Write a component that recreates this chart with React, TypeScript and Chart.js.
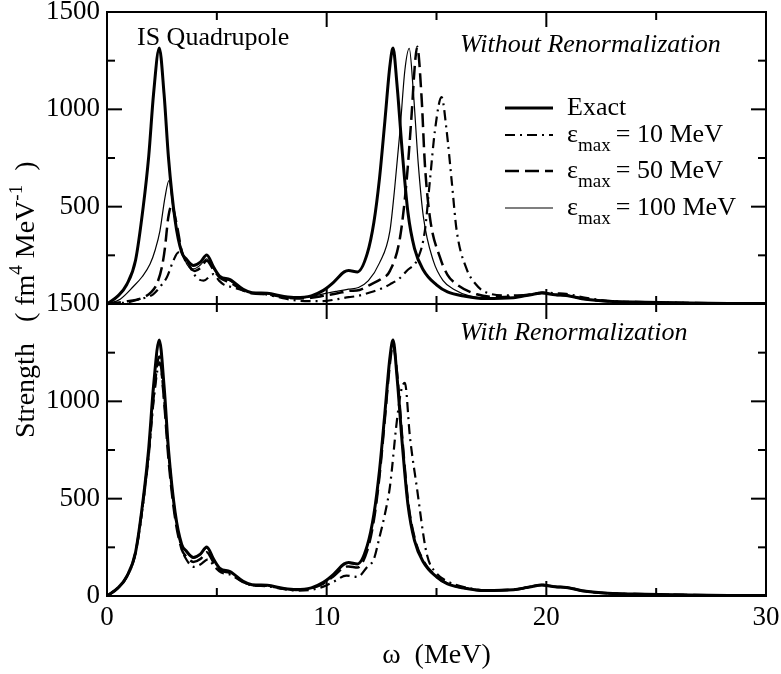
import { useEffect, useRef } from "react";
import { Chart, registerables } from "chart.js";
import type { Plugin } from "chart.js";

Chart.register(...registerables);

// omega in MeV, strength in fm^4 MeV^-1
const exactOmega = [
  0, 0.5, 0.9, 1.3, 1.65, 1.9, 2.12, 2.38, 2.6, 2.8,
  3.1, 3.4, 3.6, 3.93, 4.25, 4.54, 4.85, 5.14, 5.6, 6.2,
  6.6, 7.3, 8.0, 8.6, 9.3, 9.85, 10.3, 10.8, 11.0, 11.4,
  11.85, 12.15, 12.4, 12.65, 12.88, 13.02, 13.2, 13.45, 13.7, 14.0,
  14.4, 15.0, 15.5, 16.3, 17.2, 18.5, 19.3, 19.8, 20.4, 20.9,
  21.8, 22.8, 24.5, 26.5, 28.5, 30,
];
const exactStrength = [
  0, 42, 100, 225, 500, 760, 1080, 1315, 1075, 750,
  430, 265, 232, 198, 215, 252, 190, 142, 125, 75,
  58, 55, 40, 33, 42, 70, 110, 165, 172, 165,
  260, 420, 640, 940, 1225, 1315, 1130, 770, 470, 285,
  175, 98, 62, 40, 28, 32, 48, 57, 47, 44,
  24, 14, 9, 5, 3, 2,
];

// without renormalization
const top10Omega = [
  0, 1.0, 1.5, 2.1, 2.5, 2.72, 3.02, 3.25, 3.45, 3.63,
  4.08, 4.4, 4.84, 5.1, 5.3, 5.8, 6.4, 7.2, 7.8, 8.5,
  9.2, 9.85, 10.5, 11.0, 11.4, 12.0, 12.5, 12.88, 13.3, 13.64,
  14.17, 14.47, 14.7, 14.93, 15.23, 15.46, 15.69, 15.92, 16.37, 16.8,
  17.13, 18.0, 18.8, 19.5, 19.85, 20.5, 20.9, 21.8, 22.8, 24.5,
  26.5, 28.5, 30,
];
const top10Strength = [
  0, 10, 25, 50, 100, 136, 222, 265, 250, 222,
  136, 120, 153, 120, 101, 84, 62, 50, 35, 20,
  15, 15, 25, 35, 41, 60, 80, 101, 130, 170,
  239, 376, 634, 892, 1063, 892, 634, 376, 180, 100,
  67, 45, 45, 52, 58, 55, 52, 32, 16, 9,
  5, 3, 2,
];
const top50Omega = [
  0, 0.8, 1.65, 2.0, 2.26, 2.5, 2.64, 2.79, 2.94, 3.17,
  3.4, 3.78, 4.0, 4.25, 4.54, 4.85, 5.14, 5.6, 6.2, 6.6,
  7.3, 8.0, 8.6, 9.3, 9.85, 10.5, 11.0, 11.5, 12.0, 12.5,
  12.88, 13.34, 13.64, 13.87, 14.02, 14.12, 14.32, 14.47, 14.7, 15.16,
  15.5, 15.92, 16.83, 17.8, 18.5, 19.3, 19.8, 20.4, 20.9, 21.8,
  22.8, 24.5, 26.5, 28.5, 30,
];
const top50Strength = [
  0, 12, 33, 60, 101, 190, 290, 445, 505, 411,
  273, 187, 170, 185, 222, 175, 135, 110, 70, 55,
  50, 36, 28, 32, 42, 55, 67, 72, 100, 130,
  170, 342, 634, 978, 1236, 1321, 1063, 720, 445, 239,
  150, 101, 50, 35, 38, 50, 58, 48, 45, 25,
  14, 9, 5, 3, 2,
];
const top100Omega = [
  0, 0.6, 1.2, 1.6, 1.96, 2.2, 2.41, 2.64, 2.82, 3.02,
  3.25, 3.63, 3.96, 4.25, 4.54, 4.85, 5.14, 5.6, 6.2, 6.6,
  7.3, 8.0, 8.6, 9.3, 9.85, 10.5, 11.0, 11.45, 11.9, 12.4,
  12.88, 13.1, 13.34, 13.56, 13.76, 13.94, 14.17, 14.4, 14.86, 15.3,
  15.8, 16.5, 17.5, 18.5, 19.3, 19.8, 20.4, 20.9, 21.8, 22.8,
  24.5, 26.5, 28.5, 30,
];
const top100Strength = [
  0, 25, 90, 140, 205, 280, 376, 548, 634, 479,
  342, 205, 181, 200, 232, 180, 140, 118, 72, 56,
  52, 38, 30, 38, 52, 66, 76, 85, 120, 210,
  376, 600, 892, 1201, 1313, 1100, 720, 450, 220, 120,
  75, 42, 30, 33, 48, 57, 47, 44, 24, 14,
  9, 5, 3, 2,
];

// with renormalization (50 and 100 MeV on the exact grid)
const bot10Omega = [
  0, 0.5, 0.9, 1.3, 1.65, 1.9, 2.12, 2.4, 2.6, 2.8,
  3.1, 3.4, 3.6, 3.95, 4.25, 4.6, 4.9, 5.2, 5.6, 6.2,
  6.6, 7.3, 8.0, 8.6, 9.3, 9.85, 10.3, 10.9, 11.4, 11.85,
  12.15, 12.4, 12.65, 12.88, 13.2, 13.4, 13.56, 13.79, 14.1, 14.55,
  15.0, 15.5, 16.3, 17.2, 18.5, 19.3, 19.8, 20.4, 20.9, 21.8,
  22.8, 24.5, 26.5, 28.5, 30,
];
const bot10Strength = [
  0, 42, 100, 222, 480, 720, 1000, 1200, 1010, 740,
  420, 245, 190, 150, 162, 188, 150, 120, 110, 70,
  55, 50, 36, 28, 32, 48, 72, 105, 98, 150,
  190, 300, 420, 562, 904, 1060, 1095, 818, 562, 219,
  117, 75, 45, 30, 32, 48, 57, 47, 44, 24,
  14, 9, 5, 3, 2,
];
const bot50Strength = [
  0, 42, 100, 225, 490, 740, 1020, 1230, 1000, 700,
  400, 240, 205, 175, 190, 225, 172, 132, 118, 72,
  56, 52, 38, 31, 40, 64, 100, 148, 152, 146,
  235, 390, 610, 910, 1195, 1290, 1150, 800, 490, 300,
  182, 100, 64, 41, 28, 32, 48, 56, 47, 44,
  24, 14, 9, 5, 3, 2,
];
const bot100Strength = [
  0, 42, 100, 225, 495, 750, 1060, 1295, 1065, 745,
  430, 262, 228, 195, 212, 246, 186, 140, 123, 75,
  58, 55, 40, 33, 42, 68, 108, 160, 168, 162,
  255, 415, 635, 935, 1220, 1320, 1140, 780, 475, 288,
  176, 98, 62, 40, 28, 32, 48, 57, 47, 44,
  24, 14, 9, 5, 3, 2,
];

const cutoffs = [10, 50, 100];
const panelTitles = ["Without Renormalization", "With Renormalization"];
const panelMax = 1500;
const strengthStep = 500;
const omegaMax = 30;
const omegaStep = 10;

const SERIF = '"Liberation Serif", "DejaVu Serif", serif';

const styles = [
  { width: 3, dash: [] as number[] },          // exact
  { width: 2.2, dash: [10, 5, 2, 5] },          // 10 MeV
  { width: 2.5, dash: [14, 6] },                // 50 MeV
  { width: 1.2, dash: [] as number[] },         // 100 MeV
];

function series(omega: number[], strength: number[], yAxisID: string, style: number) {
  return {
    data: omega.map((x, i) => ({ x, y: strength[i] })),
    yAxisID,
    borderColor: "#000",
    borderWidth: styles[style].width,
    borderDash: styles[style].dash,
    pointRadius: 0,
    cubicInterpolationMode: "monotone" as const,
    fill: false,
  };
}

function drawRich(
  ctx: CanvasRenderingContext2D,
  parts: { text: string; size: number; dy?: number }[],
  x: number,
  y: number,
) {
  let cx = x;
  for (const p of parts) {
    ctx.font = `${p.size}px ${SERIF}`;
    ctx.fillText(p.text, cx, y + (p.dy || 0));
    cx += ctx.measureText(p.text).width;
  }
  return cx;
}

const framePlugin: Plugin = {
  id: "frame",
  afterDraw(chart) {
    const { ctx, chartArea: a, scales } = chart;
    const xs = scales.x;
    ctx.save();
    ctx.setLineDash([]);
    ctx.strokeStyle = "#000";
    ctx.fillStyle = "#000";

    // two stacked frames with inward ticks on all four sides
    const W = 2;
    for (const s of [scales.yTop, scales.y]) {
      const top = s.getPixelForValue(panelMax);
      const bottom = s.getPixelForValue(0);
      ctx.lineWidth = W;
      ctx.strokeRect(a.left, top, a.right - a.left, bottom - top);
      const yTicks = [0, 250, 500, 750, 1000, 1250, 1500];
      yTicks.forEach((v) => {
        const py = s.getPixelForValue(v);
        const len = v % strengthStep === 0 ? 15 : 8;
        ctx.fillRect(a.left, py - W / 2, len, W);
        ctx.fillRect(a.right - len, py - W / 2, len, W);
      });
      const xTicks = [0, 5, 10, 15, 20, 25, 30];
      xTicks.forEach((v) => {
        const px = xs.getPixelForValue(v);
        const len = v % omegaStep === 0 ? 15 : 8;
        ctx.fillRect(px - W / 2, top, W, len);
        ctx.fillRect(px - W / 2, bottom - len, W, len);
      });
    }

    ctx.textBaseline = "alphabetic";
    ctx.textAlign = "left";

    // panel annotations
    ctx.font = `26px ${SERIF}`;
    ctx.fillText("IS Quadrupole", 137, 45);
    ctx.font = `italic 26px ${SERIF}`;
    ctx.fillText(panelTitles[0], 460, 52);
    ctx.fillText(panelTitles[1], 460, 340);

    // legend
    const baselines = [115, 142, 178, 215];
    for (let i = 0; i < 4; i++) {
      const by = baselines[i];
      ctx.lineWidth = styles[i].width;
      ctx.setLineDash(styles[i].dash);
      ctx.beginPath();
      ctx.moveTo(505, by - 7);
      ctx.lineTo(553, by - 7);
      ctx.stroke();
      ctx.setLineDash([]);
      if (i === 0) {
        ctx.font = `26px ${SERIF}`;
        ctx.fillText("Exact", 567, by);
      } else {
        drawRich(ctx, [
          { text: "ε", size: 26 },
          { text: "max", size: 19, dy: 9 },
          { text: `\u2009= ${cutoffs[i - 1]} MeV`, size: 26 },
        ], 567, by);
      }
    }

    // x axis title
    ctx.font = `28px ${SERIF}`;
    ctx.textAlign = "center";
    ctx.fillText("ω  (MeV)", (a.left + a.right) / 2, 663);

    // y axis title, rotated
    ctx.textAlign = "left";
    ctx.translate(34, 438);
    ctx.rotate(-Math.PI / 2);
    drawRich(ctx, [
      { text: "Strength", size: 28 },
      { text: "   ( fm", size: 28 },
      { text: "4", size: 19, dy: -12 },
      { text: " MeV", size: 28 },
      { text: "-1", size: 19, dy: -12 },
      { text: "  )", size: 28 },
    ], 0, 0);
    ctx.restore();
  },
};

export default function App() {
  const ref = useRef<HTMLCanvasElement>(null);

  useEffect(() => {
    if (!ref.current) return;
    const chart = new Chart(ref.current, {
      type: "line",
      plugins: [framePlugin],
      data: {
        datasets: [
          series(exactOmega, exactStrength, "yTop", 0),
          series(top10Omega, top10Strength, "yTop", 1),
          series(top50Omega, top50Strength, "yTop", 2),
          series(top100Omega, top100Strength, "yTop", 3),
          series(exactOmega, exactStrength, "y", 0),
          series(bot10Omega, bot10Strength, "y", 1),
          series(exactOmega, bot50Strength, "y", 2),
          series(exactOmega, bot100Strength, "y", 3),
        ],
      },
      options: {
        animation: false,
        responsive: true,
        maintainAspectRatio: false,
        layout: { padding: { top: 12, right: 15, left: 0, bottom: 0 } },
        plugins: {
          legend: { display: false },
          tooltip: { enabled: false },
        },
        scales: {
          x: {
            type: "linear",
            min: 0,
            max: omegaMax,
            grid: { display: false, drawTicks: false },
            border: { display: false },
            ticks: {
              stepSize: omegaStep,
              autoSkip: false,
              maxRotation: 0,
              color: "#000",
              padding: 6,
              font: { family: SERIF, size: 27 },
            },
            afterFit: (s: any) => {
              s.height = 78;
              s.paddingLeft = 0;
              s.paddingRight = 0;
            },
          },
          // bottom panel occupies 0..1500 of this axis; upper half carries the top panel's labels
          y: {
            type: "linear",
            position: "left",
            min: 0,
            max: panelMax * 2,
            grid: { display: false, drawTicks: false },
            border: { display: false },
            ticks: {
              stepSize: strengthStep,
              autoSkip: false,
              color: "#000",
              padding: 7,
              font: { family: SERIF, size: 27 },
              callback: (v: any) => (v <= panelMax ? String(v) : String(v - panelMax)),
            },
            afterFit: (s: any) => {
              s.width = 107;
              s.paddingTop = 0;
              s.paddingBottom = 0;
            },
          },
          yTop: {
            type: "linear",
            display: false,
            min: -panelMax,
            max: panelMax,
          },
        },
      },
    });
    return () => chart.destroy();
  }, []);

  return (
    <div style={{ position: "absolute", left: 0, top: 0, width: 781, height: 674, background: "#fff" }}>
      <canvas ref={ref} />
    </div>
  );
}
